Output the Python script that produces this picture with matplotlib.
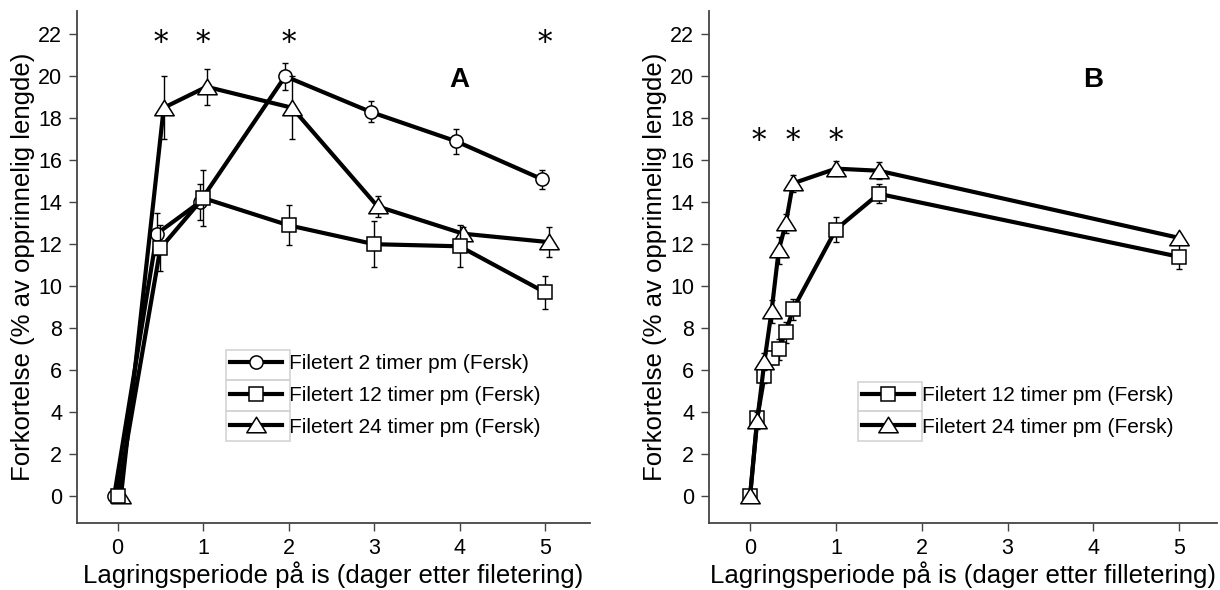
import numpy as np
import matplotlib
matplotlib.use("Agg")
import matplotlib.pyplot as plt
from matplotlib.patches import Rectangle
from matplotlib.path import Path

plt.rcParams['font.family'] = ['Liberation Sans', 'DejaVu Sans']

# panel A data (storage days, shortening %)
days_a = [0, 0.5, 1, 2, 3, 4, 5]
fil2_a = [0, 12.5, 14.0, 20.0, 18.3, 16.9, 15.1]
fil2_a_err = [0, 1.0, 0.85, 0.65, 0.5, 0.6, 0.45]
fil12_a = [0, 11.8, 14.2, 12.9, 12.0, 11.9, 9.7]
fil12_a_err = [0, 1.1, 1.35, 0.95, 1.1, 1.0, 0.8]
fil24_a = [0, 18.5, 19.5, 18.5, 13.8, 12.5, 12.1]
fil24_a_err = [0, 1.5, 0.85, 1.5, 0.5, 0.3, 0.7]
stars_a = [0.5, 1, 2, 5]

# panel B data
days_b = [0, 1/12, 1/6, 0.25, 1/3, 5/12, 0.5, 1, 1.5, 5]
fil12_b = [0, 3.7, 5.7, 6.6, 7.0, 7.8, 8.9, 12.7, 14.4, 11.4]
fil12_b_err = [0, 0.2, 0.3, 0.3, 0.5, 0.5, 0.5, 0.6, 0.45, 0.6]
fil24_b = [0, 3.6, 6.4, 8.8, 11.7, 13.0, 14.9, 15.6, 15.5, 12.3]
fil24_b_err = [0, 0.4, 0.4, 0.55, 0.65, 0.45, 0.4, 0.35, 0.4, 0.2]
stars_b = [0.1, 0.5, 1]

labels = ["Filetert 2 timer pm (Fersk)", "Filetert 12 timer pm (Fersk)",
          "Filetert 24 timer pm (Fersk)"]

# wide, flat triangle like the original
tri = Path([(-1, -0.75), (1, -0.75), (0, 0.85), (-1, -0.75)], closed=True)
style = dict(color='black', lw=3, mfc='white', mec='black', mew=1.1)


def series(ax, x, y, err, marker, ms, label, z, dx=0.0):
    x = np.array(x) + dx
    ax.errorbar(x, y, yerr=err, fmt='none', ecolor='black', elinewidth=1,
                capsize=2.5, capthick=1, zorder=z)
    ax.plot(x, y, marker=marker, ms=ms, label=label, zorder=z + 0.5, **style)


def legend_boxes(fig, leg, nrows):
    fig.canvas.draw()
    bb = leg.get_window_extent()
    fs = leg._fontsize * fig.dpi / 72
    hw = leg.handlelength * fs + 2 * leg.borderpad * fs + 4
    rh = bb.height / nrows
    inv = fig.transFigure.inverted()
    for i in range(nrows):
        (x0, y0) = inv.transform((bb.x0, bb.y0 + i * rh))
        (x1, y1) = inv.transform((bb.x0 + hw, bb.y0 + (i + 1) * rh))
        fig.patches.append(Rectangle((x0, y0), x1 - x0, y1 - y0, fill=False,
                                     ec='#d4d4d4', lw=1.2,
                                     transform=fig.transFigure, figure=fig))


def setup(ax, xlabel, xlim):
    ax.set_xlim(*xlim)
    ax.set_ylim(-1.27, 23.1)
    ax.set_xticks(range(6))
    ax.set_yticks(range(0, 23, 2))
    for s in ['top', 'right']:
        ax.spines[s].set_visible(False)
    for s in ['left', 'bottom']:
        ax.spines[s].set_color('#444444')
        ax.spines[s].set_linewidth(1.3)
    ax.tick_params(direction='out', length=6, width=1, color='#444444',
                   labelsize=15.5, pad=5)
    ax.set_xlabel(xlabel, fontsize=18.5, labelpad=2)
    ax.set_ylabel("Forkortelse (% av opprinnelig lengde)", fontsize=18.5, labelpad=2)


fig = plt.figure(figsize=(12.2, 5.9), dpi=100)
ax1 = fig.add_axes([0.0634, 0.114, 0.42, 0.867])
ax2 = fig.add_axes([0.5814, 0.114, 0.4161, 0.867])

# panel A
series(ax1, days_a, fil2_a, fil2_a_err, 'o', 9.5, labels[0], 3, -0.04)
series(ax1, days_a, fil12_a, fil12_a_err, 's', 9.5, labels[1], 5, 0.0)
series(ax1, days_a, fil24_a, fil24_a_err, tri, 14, labels[2], 4, 0.04)
for xs in stars_a:
    ax1.text(xs, 21.6, '*', fontsize=21, family='DejaVu Serif',
             ha='center', va='center')
ax1.text(4.0, 19.8, 'A', fontsize=20, fontweight='bold', ha='center', va='center')
setup(ax1, "Lagringsperiode på is (dager etter filetering)", (-0.47, 5.52))
leg1 = ax1.legend(loc='lower left', bbox_to_anchor=(0.29, 0.16), frameon=False,
                  fontsize=15, handlelength=2.5, handletextpad=0.35,
                  labelspacing=0.62, borderpad=0.2, borderaxespad=0)

# panel B
series(ax2, days_b, fil12_b, fil12_b_err, 's', 9.5, labels[1], 3)
series(ax2, days_b, fil24_b, fil24_b_err, tri, 14, labels[2], 5)
for xs in stars_b:
    ax2.text(xs, 16.9, '*', fontsize=21, family='DejaVu Serif',
             ha='center', va='center')
ax2.text(4.0, 19.8, 'B', fontsize=20, fontweight='bold', ha='center', va='center')
setup(ax2, "Lagringsperiode på is (dager etter filletering)", (-0.475, 5.44))
leg2 = ax2.legend(loc='lower left', bbox_to_anchor=(0.293, 0.16), frameon=False,
                  fontsize=15, handlelength=2.5, handletextpad=0.35,
                  labelspacing=0.62, borderpad=0.2, borderaxespad=0)

legend_boxes(fig, leg1, 3)
legend_boxes(fig, leg2, 2)

fig.savefig("out.png", dpi=100)
